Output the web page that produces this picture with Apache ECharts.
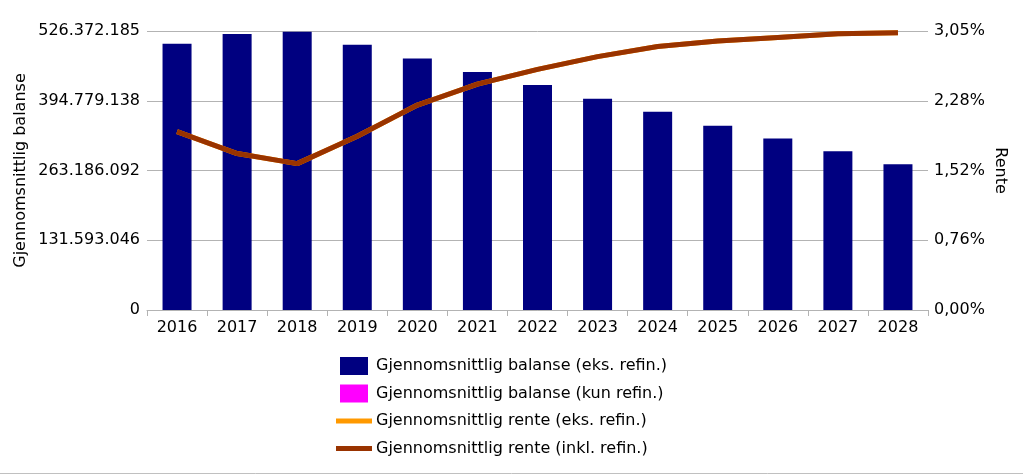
<!DOCTYPE html>
<html>
  <head>
    <meta charset="utf-8" />
    <title>Gjennomsnittlig balanse og rente</title>
    <script src="https://cdn.jsdelivr.net/npm/echarts@6/dist/echarts.min.js"></script>
    <style>
      html, body { margin: 0; padding: 0; background: #fff; }
    </style>
  </head>
  <body>
    <div id="chartContainer" style="width: 1023px;height:474px;"></div>
    <script>
        // år på x-aksen
        var years = ['2016', '2017', '2018', '2019', '2020', '2021', '2022', '2023', '2024', '2025', '2026', '2027', '2028'];
        // gjennomsnittlig balanse (eks. refin.), lest av figuren
        var balanceEks = [502400000, 520700000, 525100000, 500500000, 474600000, 448900000, 424400000, 398500000, 374000000, 347500000, 323500000, 299700000, 275200000];
        // kun refin. — ingen synlige søyler
        var balanceRefin = [0, 0, 0, 0, 0, 0, 0, 0, 0, 0, 0, 0, 0];
        // rente i prosent (eks. refin. ligger skjult under inkl. refin.)
        var renteEks = [1.95, 1.71, 1.60, 1.90, 2.24, 2.47, 2.63, 2.77, 2.88, 2.94, 2.98, 3.02, 3.03];
        var renteInkl = [1.95, 1.71, 1.60, 1.90, 2.24, 2.47, 2.63, 2.77, 2.88, 2.94, 2.98, 3.02, 3.03];
        // aksetekster
        var leftTicks = ['0', '131.593.046', '263.186.092', '394.779.138', '526.372.185'];
        var rightTicks = ['0,00%', '0,76%', '1,52%', '2,28%', '3,05%'];

        var leftMax = 526372185;
        var rightMax = 3.05;
        var font = 'DejaVu Sans';

        var myChart = echarts.init(document.getElementById('chartContainer'));

        var option = {
          animation: false,
          textStyle: { fontFamily: font },
          grid: { left: 147, right: 95, top: 31, bottom: 164 },
          legend: [
            {
              data: ['Gjennomsnittlig balanse (eks. refin.)', 'Gjennomsnittlig balanse (kun refin.)'],
              orient: 'vertical',
              left: 340,
              top: 357,
              padding: 0,
              icon: 'rect',
              itemWidth: 28,
              itemHeight: 18,
              itemGap: 9.5,
              textStyle: { fontFamily: font, fontSize: 16, color: '#000', lineHeight: 18, padding: [0, 0, 0, 3] },
            },
            {
              data: ['Gjennomsnittlig rente (eks. refin.)', 'Gjennomsnittlig rente (inkl. refin.)'],
              orient: 'vertical',
              left: 336,
              top: 412,
              padding: 0,
              icon: 'rect',
              itemWidth: 36,
              itemHeight: 5,
              itemGap: 9.5,
              textStyle: { fontFamily: font, fontSize: 16, color: '#000', lineHeight: 18, padding: [0, 0, 0, -1] },
            },
          ],
          xAxis: {
            type: 'category',
            data: years,
            axisLine: { lineStyle: { color: '#b3b3b3' } },
            axisTick: { show: true, length: 6, lineStyle: { color: '#b3b3b3' } },
            axisLabel: { color: '#000', fontSize: 16, margin: 10 },
          },
          yAxis: [
            {
              type: 'value',
              min: 0,
              max: leftMax,
              interval: leftMax / 4,
              name: 'Gjennomsnittlig balanse',
              nameLocation: 'middle',
              nameRotate: 90,
              nameGap: 118,
              nameMoveOverlap: false,
              nameTextStyle: { color: '#000', fontSize: 16 },
              axisLine: { show: false },
              axisTick: { show: false },
              axisLabel: {
                color: '#000', fontSize: 16, margin: 7, padding: [4, 0, 0, 0],
                formatter: function (v) { return leftTicks[Math.round(v / (leftMax / 4))]; },
              },
              splitLine: { lineStyle: { color: '#b3b3b3' } },
            },
            {
              type: 'value',
              min: 0,
              max: rightMax,
              interval: rightMax / 4,
              name: 'Rente',
              nameLocation: 'middle',
              nameRotate: -90,
              nameGap: 64,
              nameMoveOverlap: false,
              nameTextStyle: { color: '#000', fontSize: 16 },
              axisLine: { show: false },
              axisTick: { show: false },
              axisLabel: {
                color: '#000', fontSize: 16, margin: 6, padding: [4, 0, 0, 0],
                formatter: function (v) { return rightTicks[Math.round(v / (rightMax / 4))]; },
              },
              splitLine: { show: false },
            },
          ],
          series: [
            {
              name: 'Gjennomsnittlig balanse (eks. refin.)',
              type: 'bar',
              stack: 'balanse',
              data: balanceEks,
              barWidth: 29,
              itemStyle: { color: '#000080' },
            },
            {
              name: 'Gjennomsnittlig balanse (kun refin.)',
              type: 'bar',
              stack: 'balanse',
              data: balanceRefin,
              barWidth: 29,
              itemStyle: { color: '#ff00ff' },
            },
            {
              name: 'Gjennomsnittlig rente (eks. refin.)',
              type: 'line',
              yAxisIndex: 1,
              data: renteEks,
              showSymbol: false,
              symbol: 'none',
              itemStyle: { color: '#ff9900' },
              lineStyle: { color: '#ff9900', width: 5 },
            },
            {
              name: 'Gjennomsnittlig rente (inkl. refin.)',
              type: 'line',
              yAxisIndex: 1,
              data: renteInkl,
              showSymbol: false,
              symbol: 'none',
              itemStyle: { color: '#993300' },
              lineStyle: { color: '#993300', width: 5 },
            },
          ],
          graphic: [
            {
              type: 'line',
              shape: { x1: 0, y1: 473.5, x2: 1023, y2: 473.5 },
              style: { stroke: '#c0c0c0', lineWidth: 1 },
            },
          ],
        };

        myChart.setOption(option);
    </script>
  </body>
</html>
